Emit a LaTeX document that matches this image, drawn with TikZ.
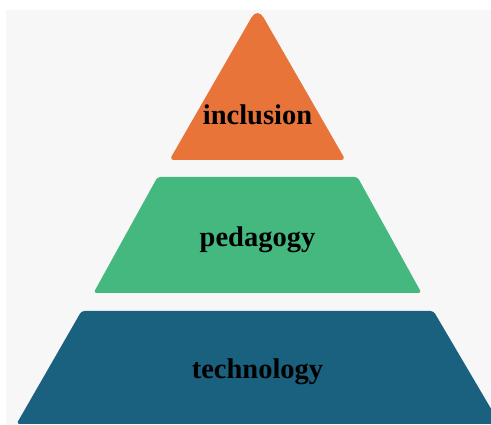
\documentclass[tikz,border=0pt]{standalone}
\usepackage{fontspec}
\setmainfont{Liberation Serif}
\definecolor{bgray}{HTML}{F7F7F7}
\definecolor{porange}{HTML}{E9743A}
\definecolor{pgreen}{HTML}{45B87F}
\definecolor{pblue}{HTML}{1A607F}
\tikzset{
  lvl/.style={rounded corners=3pt},
  lbl/.style={anchor=base, font=\bfseries\fontsize{28.5}{30}\selectfont, text=black, inner sep=0pt}
}
\begin{document}
\begin{tikzpicture}[x=1pt,y=-1pt]
\useasboundingbox (0,0) rectangle (491,425);
\fill[white] (0,0) rectangle (491,425);
\clip (0,0) rectangle (491,425);
\fill[bgray] (6,10) rectangle (491,425);
% apex triangle
\fill[porange] (257.5,160) [rounded corners=4pt] -- (345.5,160) [rounded corners=12pt] -- (257.5,7) [rounded corners=4pt] -- (169.5,160) -- cycle;
% middle trapezoid
\fill[pgreen, lvl] (157.5,177) -- (357.5,177) -- (421.5,293) -- (93.5,293) -- cycle;
% bottom trapezoid
\fill[pblue, lvl] (81.5,311) -- (433.5,311) -- (500,424) -- (16.5,424) -- cycle;
\node[lbl] (incl) at (257.5,124.5) {inclusion};
\node[lbl] (peda) at (257.5,246.5) {pedagogy};
\node[lbl] (tech) at (257.5,378.5) {technology};
\end{tikzpicture}
\end{document}
